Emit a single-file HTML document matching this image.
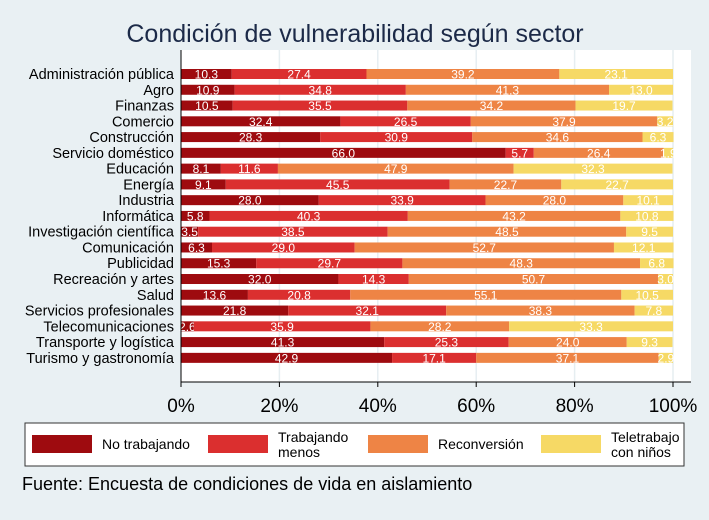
<!DOCTYPE html>
<html><head><meta charset="utf-8"><style>
body{margin:0;background:#e9f0f3;}
svg text{font-family:"Liberation Sans",sans-serif;}
</style></head><body>
<svg width="709" height="515" viewBox="0 0 709 515" xmlns="http://www.w3.org/2000/svg">
<rect x="0" y="0" width="709" height="515" fill="#e9f0f3"/>
<text x="355" y="42" font-size="25" text-anchor="middle" fill="#1c2a48">Condición de vulnerabilidad según sector</text>
<rect x="181" y="50" width="510" height="332" fill="#ffffff"/>
<g id="grid"></g>
<g id="bars"></g>
<g id="ylabels"></g>
<line x1="181" y1="50" x2="181" y2="382" stroke="#000" stroke-width="1"/>
<line x1="181" y1="382" x2="691" y2="382" stroke="#000" stroke-width="1"/>
<g id="xticks"></g>
<rect x="25" y="423" width="659" height="43" fill="#fff" stroke="#333" stroke-width="1"/>
<g id="legend"></g>
<text x="22" y="490" font-size="18" fill="#000">Fuente: Encuesta de condiciones de vida en aislamiento</text>
</svg>
<script>
const categories=["Administración pública","Agro","Finanzas","Comercio","Construcción","Servicio doméstico","Educación","Energía","Industria","Informática","Investigación científica","Comunicación","Publicidad","Recreación y artes","Salud","Servicios profesionales","Telecomunicaciones","Transporte y logística","Turismo y gastronomía"];
const noTrabajando=[10.3,10.9,10.5,32.4,28.3,66.0,8.1,9.1,28.0,5.8,3.5,6.3,15.3,32.0,13.6,21.8,2.6,41.3,42.9];
const trabajandoMenos=[27.4,34.8,35.5,26.5,30.9,5.7,11.6,45.5,33.9,40.3,38.5,29.0,29.7,14.3,20.8,32.1,35.9,25.3,17.1];
const reconversion=[39.2,41.3,34.2,37.9,34.6,26.4,47.9,22.7,28.0,43.2,48.5,52.7,48.3,50.7,55.1,38.3,28.2,24.0,37.1];
const teletrabajo=[23.1,13.0,19.7,3.2,6.3,1.9,32.3,22.7,10.1,10.8,9.5,12.1,6.8,3.0,10.5,7.8,33.3,9.3,2.9];
const seriesNames=["No trabajando","Trabajando menos","Reconversión","Teletrabajo con niños"];
const colors=["#9e0b0f","#db2f2f","#ee8445","#f6d965"];
const xTicks=[0,20,40,60,80,100];
const NS="http://www.w3.org/2000/svg";
const x=v=>181+v/100*492;
const y=i=>74+i*15.77;
function mk(t,a,p){const e=document.createElementNS(NS,t);for(const k in a)e.setAttribute(k,a[k]);p.appendChild(e);return e;}
const grid=document.getElementById('grid'),bars=document.getElementById('bars'),yl=document.getElementById('ylabels'),xt=document.getElementById('xticks');
xTicks.forEach(t=>{
 if(t>0){const g=mk('line',{x1:x(t),x2:x(t),y1:50,y2:382,stroke:'#e6eef1','stroke-width':1.5},grid);
 
 }
 const tk=mk('line',{x1:x(t),x2:x(t),y1:382,y2:387,stroke:'#000'},xt);
 
 
 const tl=mk('text',{x:x(t),y:412,'font-size':19,'text-anchor':'middle',fill:'#000'},xt);tl.textContent=t+'%';
 
 
});
const series=[noTrabajando,trabajandoMenos,reconversion,teletrabajo];
categories.forEach((c,i)=>{
 const lb=mk('text',{x:174,y:y(i)+5,'font-size':14.5,'text-anchor':'end',fill:'#000'},yl);lb.textContent=c;
 
 
 let acc=0;
 series.forEach((s,j)=>{
  const v=s[i];
  const r=mk('rect',{x:x(acc),y:y(i)-5,width:x(acc+v)-x(acc),height:10,fill:colors[j]},bars);
  
  
  const t=mk('text',{x:(x(acc)+x(acc+v))/2,y:y(i)+4.5,'font-size':12,'text-anchor':'middle',fill:'#fff'},bars);
  t.textContent=v.toFixed(1);
  
  
  acc+=v;
 });
});
const lg=document.getElementById('legend');
const lx=[32,208,368,541];
seriesNames.forEach((n,j)=>{
 const r=mk('rect',{x:lx[j],y:435,width:60,height:18,fill:colors[j]},lg);
 
 
 const parts=j==1?["Trabajando","menos"]:j==3?["Teletrabajo","con niños"]:[n];
 parts.forEach((p,k)=>{
  const t=mk('text',{x:lx[j]+70,y:parts.length==1?449:(442+k*15),'font-size':14,fill:'#000'},lg);t.textContent=p;
  
  
 });
});
</script>
</body></html>
